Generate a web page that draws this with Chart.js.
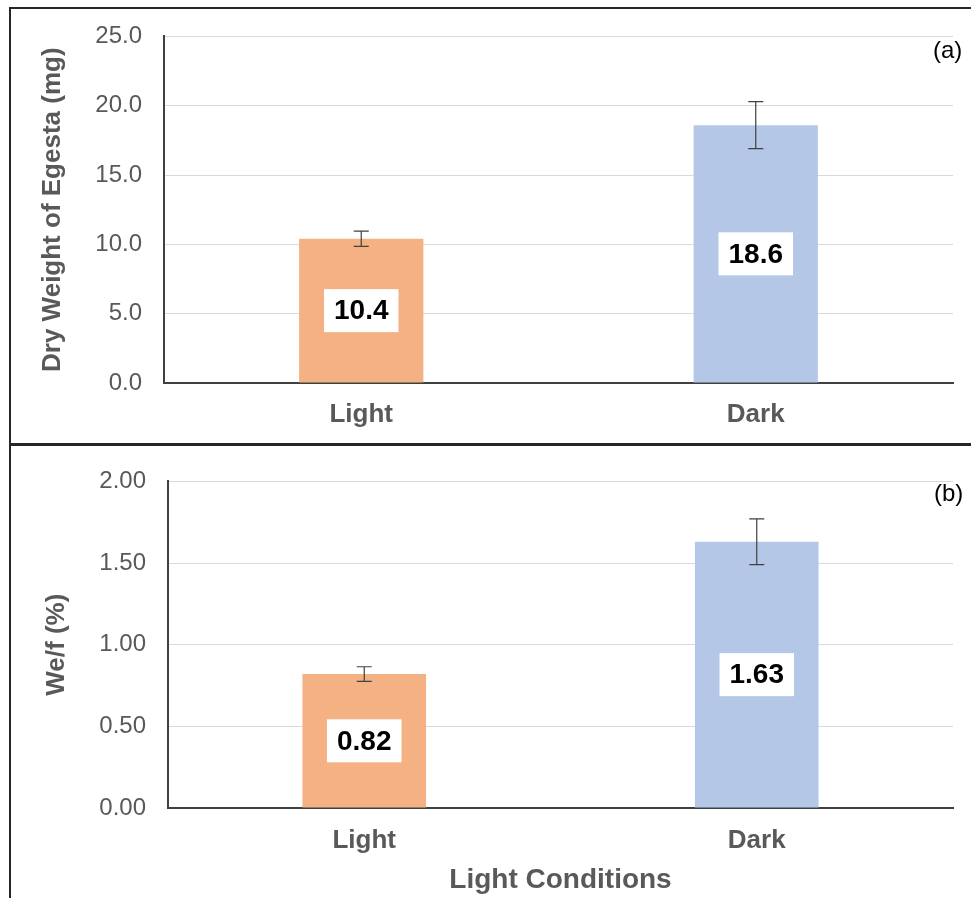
<!DOCTYPE html>
<html>
<head>
<meta charset="utf-8">
<script src="https://cdn.jsdelivr.net/npm/chart.js@4"></script>
<style>
  body { margin: 0; background: #fff; overflow: hidden; }
  #page { position: relative; width: 971px; height: 898px; }
  .frame { position: absolute; border: 2px solid #262626; box-sizing: border-box; }
  .box { position: absolute; left: 0; width: 971px; }
  .tag { position: absolute; font: 24px "Liberation Sans", Arial, sans-serif; color: #000; }
</style>
</head>
<body>
<div id="page">
  <div class="frame" style="left:9px; top:7px; width:975px; height:439px;"></div>
  <div class="frame" style="left:9px; top:443px; width:975px; height:470px;"></div>
  <div class="box" style="top:0; height:445px;"><canvas id="chart1"></canvas></div>
  <div class="box" style="top:445px; height:453px;"><canvas id="chart2"></canvas></div>
  <div class="tag" style="left:933px; top:36px;">(a)</div>
  <div class="tag" style="left:934px; top:479px;">(b)</div>
</div>
<script>
const categories = ["Light", "Dark"];
const barColors = ["#F4B183", "#B4C7E7"];

// panel (a)
const egestaValues = [10.4, 18.6];
const egestaErrors = [0.55, 1.7];

// panel (b)
const ratioValues = [0.82, 1.63];
const ratioErrors = [0.045, 0.14];

const FONT = '"Liberation Sans", Arial, sans-serif';
const GREY = "#595959";

// error bars + white value boxes drawn on top of the bars
const barExtras = {
  id: "barExtras",
  afterDatasetsDraw(chart, args, opts) {
    const ctx = chart.ctx;
    const y = chart.scales.y;
    const bars = chart.getDatasetMeta(0).data;
    bars.forEach((bar, i) => {
      const v = chart.data.datasets[0].data[i];
      const e = opts.errors[i];
      const yTop = y.getPixelForValue(v + e);
      const yBot = y.getPixelForValue(v - e);
      ctx.save();
      ctx.strokeStyle = "#404040";
      ctx.lineWidth = 1.2;
      ctx.beginPath();
      ctx.moveTo(bar.x, yTop); ctx.lineTo(bar.x, yBot);
      ctx.moveTo(bar.x - 7.5, yTop); ctx.lineTo(bar.x + 7.5, yTop);
      ctx.moveTo(bar.x - 7.5, yBot); ctx.lineTo(bar.x + 7.5, yBot);
      ctx.stroke();

      const txt = v.toFixed(opts.decimals);
      ctx.font = "bold 28px " + FONT;
      const w = ctx.measureText(txt).width + 20;
      const h = 43;
      const cy = (bar.y + bar.base) / 2;
      ctx.fillStyle = "#fff";
      ctx.fillRect(bar.x - w / 2, cy - h / 2, w, h);
      ctx.fillStyle = "#000";
      ctx.textAlign = "center";
      ctx.textBaseline = "middle";
      ctx.fillText(txt, bar.x, cy + 1);
      ctx.restore();
    });
  }
};

const makeChart = (id, cfg) => {
  const ctx = document.getElementById(id).getContext("2d");
  return new Chart(ctx, {
    type: "bar",
    data: {
      labels: categories,
      datasets: [
        {
          data: cfg.values,
          backgroundColor: barColors,
          borderWidth: 0,
          categoryPercentage: 1,
          barPercentage: 0.315
        }
      ]
    },
    options: {
      responsive: true,
      maintainAspectRatio: false,
      animation: false,
      layout: {
        padding: { left: 0, right: 18, top: cfg.padTop, bottom: 0 }
      },
      plugins: {
        legend: { display: false },
        tooltip: { enabled: false },
        barExtras: { errors: cfg.errors, decimals: cfg.decimals }
      },
      scales: {
        x: {
          grid: { display: false },
          border: { display: true, color: "#404040", width: 2 },
          ticks: {
            color: GREY,
            padding: cfg.xPad,
            font: { family: FONT, size: 26, weight: "bold" }
          },
          title: cfg.xTitle
            ? {
                display: true,
                text: cfg.xTitle,
                color: GREY,
                font: { family: FONT, size: 28, weight: "bold" },
                padding: { top: 1, bottom: 1 }
              }
            : { display: false },
          afterFit: (s) => { s.height = cfg.xHeight; }
        },
        y: {
          min: 0,
          max: cfg.max,
          grid: { color: "#d9d9d9", lineWidth: 1, drawTicks: false },
          border: { display: true, color: "#404040", width: 2 },
          ticks: {
            stepSize: cfg.step,
            color: GREY,
            padding: 22,
            font: { family: FONT, size: 24 },
            callback: (v) => Number(v).toFixed(cfg.decimals)
          },
          title: {
            display: true,
            text: cfg.yTitle,
            color: GREY,
            font: { family: FONT, size: 26, weight: "bold" },
            padding: { top: cfg.yTitlePad, bottom: 0 }
          },
          afterFit: (s) => { s.width = cfg.yWidth; }
        }
      }
    },
    plugins: [barExtras]
  });
};

makeChart("chart1", {
  values: egestaValues,
  errors: egestaErrors,
  decimals: 1,
  max: 25,
  step: 5,
  yTitle: "Dry Weight of Egesta (mg)",
  yTitlePad: 37,
  yWidth: 164,
  padTop: 32,
  xHeight: 62,
  xPad: 8
});

makeChart("chart2", {
  values: ratioValues,
  errors: ratioErrors,
  decimals: 2,
  max: 2,
  step: 0.5,
  yTitle: "We/f (%)",
  yTitlePad: 41,
  yWidth: 168,
  padTop: 23,
  xHeight: 90,
  xPad: 9,
  xTitle: "Light Conditions"
});
</script>
</body>
</html>
